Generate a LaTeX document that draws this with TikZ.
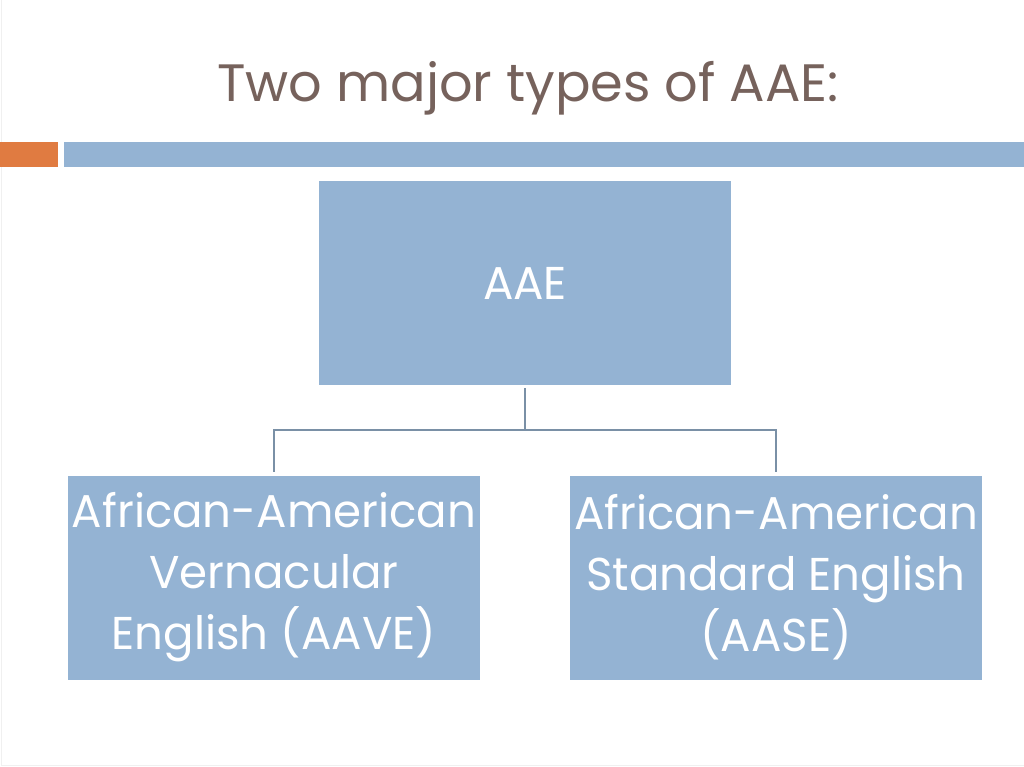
\documentclass[tikz,border=0pt]{standalone}
\usepackage{fontspec}
\setmainfont{Poppins}
\newfontfamily\boxfont{Poppins}[FakeStretch=0.98]
\definecolor{titlecol}{HTML}{76625C}
\definecolor{boxblue}{HTML}{94B3D3}
\definecolor{barorange}{HTML}{E07B41}
\definecolor{linecol}{HTML}{7A90A6}
\begin{document}
\begin{tikzpicture}[x=1pt,y=-1pt,
  box/.style={rectangle, fill=boxblue, minimum width=412pt, minimum height=204pt, inner sep=0pt,
    text=white, align=center, font=\boxfont\fontsize{46}{61}\selectfont},
  conn/.style={draw=linecol, line width=2.2pt}]
\useasboundingbox (0,0) rectangle (1024,767);
\draw[black!6, line width=1pt] (1.5,0) -- (1.5,765.5) -- (1024,765.5);
\node[text=titlecol, font=\fontsize{52.6}{60}\selectfont, anchor=base] (title) at (528,102) {Two major types of AAE:};
\fill[barorange] (0,142) rectangle (58,167);
\fill[boxblue] (64,142) rectangle (1024,167);
\node[box] (top) at (525,283) {AAE};
\node[box] (left) at (274,577.5) {African-American\\Vernacular\\English (AAVE)};
\node[box] (right) at (776,577.5) {African-American\\Standard English\\(AASE)};
\coordinate (hub) at (525,430);
\draw[conn, shorten <=3pt] (top.south) -- (hub);
\draw[conn, shorten >=3pt] (hub) -| (left.north);
\draw[conn, shorten >=3pt] (hub) -| (right.north);
\end{tikzpicture}
\end{document}
